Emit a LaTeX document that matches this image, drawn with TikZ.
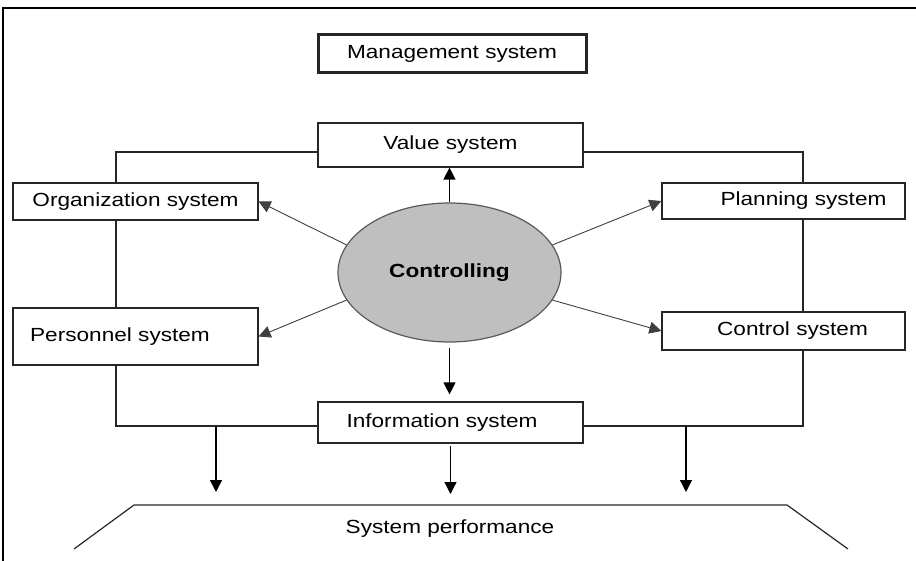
\documentclass[tikz,border=0pt]{standalone}
\usepackage{fontspec}
\setmainfont{Liberation Sans}[FakeStretch=1.19]
\usetikzlibrary{arrows.meta,calc,shapes.geometric}
\begin{document}
\begin{tikzpicture}[x=1pt,y=-1pt,
  lbl/.style={font=\fontsize{19}{22}\selectfont},
  box/.style={lbl, draw=black!85, line width=1.2pt, fill=white, inner sep=0pt},
  conn/.style={draw=black!85, line width=1.2pt},
  arr/.style={draw=black, line width=1.3pt, -{Triangle[length=12pt,width=12pt]}},
  darr/.style={draw=black!75, line width=0.9pt, -{Triangle[length=12pt,width=12pt]}}
]
\useasboundingbox (0,0) rectangle (916,561);
\draw[line width=2pt] (3,561) -- (3,8) -- (916,8);

% boxes
\node[box, line width=3pt, minimum width=268, minimum height=38] (mgmt) at (452,54) {Management system};
\node[box, minimum width=265, minimum height=44] (val) at (450.5,145) {Value system};
\node[box, minimum width=245, minimum height=37] (org) at (135.5,201.5) {Organization system};
\node[box, minimum width=245, minimum height=57] (pers) at (135.5,336.5) {Personnel system\hspace*{31pt}};
\node[box, minimum width=243, minimum height=36] (plan) at (783.5,201) {\hspace*{40pt}Planning system};
\node[box, minimum width=243, minimum height=38] (ctrl) at (783.5,331) {\hspace*{18pt}Control system};
\node[box, minimum width=265, minimum height=41] (info) at (450.5,422.5) {Information system\hspace*{17pt}};
\node[ellipse, draw=black!65, line width=1.2pt, fill=black!25, minimum width=223, minimum height=139,
      inner sep=0pt, font=\fontsize{19}{22}\selectfont\bfseries] (core) at (449.5,272.5) {Controlling};

% frame lines of the system
\coordinate (tl) at (116,152);
\coordinate (tr) at (803,152);
\coordinate (bl) at (116,426);
\coordinate (br) at (803,426);
\draw[conn] (val.west |- tl) -- (tl) -- (tl |- org.north);
\draw[conn] (tl |- org.south) -- (tl |- pers.north);
\draw[conn] (tl |- pers.south) -- (bl) -- (info.west |- bl);
\draw[conn] (val.east |- tr) -- (tr) -- (tr |- plan.north);
\draw[conn] (tr |- plan.south) -- (tr |- ctrl.north);
\draw[conn] (tr |- ctrl.south) -- (br) -- (info.east |- br);

% system performance
\coordinate (t1) at (74,549);
\coordinate (t2) at (134,505);
\coordinate (t3) at (787,505);
\coordinate (t4) at (848,549);
\draw[conn] (t1) -- (t2) -- (t3) -- (t4);
\node[lbl] (perf) at (450,529) {System performance};

% arrows from controlling
\draw[arr] (core.north) -- (core.north |- val.south);
\draw[arr, shorten <=5pt, shorten >=7pt] (core.south) -- (core.south |- info.north);
\draw[darr] (core.165) -- (org.east);
\draw[darr] (core.195) -- (pers.east);
\draw[darr] (core.15) -- (plan.west);
\draw[darr] (core.-15) -- (ctrl.west);

% arrows to system performance
\coordinate (la) at (216,426);
\coordinate (ra) at (686,426);
\draw[arr, shorten >=13pt] (la) -- (la |- t2);
\draw[arr, shorten >=13pt] (ra) -- (ra |- t2);
\draw[arr, shorten <=2pt, shorten >=11pt] (info.south) -- (info.south |- t2);
\end{tikzpicture}
\end{document}
